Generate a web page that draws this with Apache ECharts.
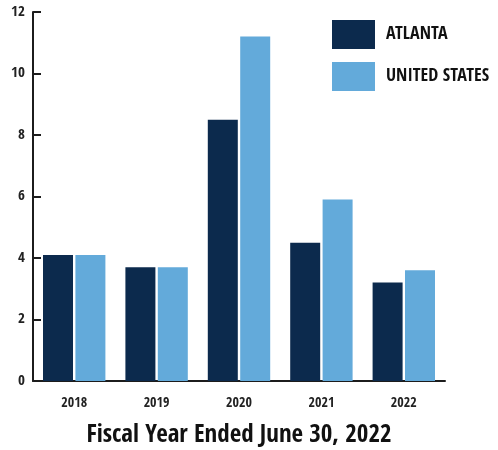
<!DOCTYPE html>
<html>
<head>
<meta charset="utf-8">
<script src="https://cdn.jsdelivr.net/npm/echarts@6/dist/echarts.min.js"></script>
<style>
  html, body { margin: 0; padding: 0; background: #fff; }
  #chart { width: 498px; height: 450px; }
</style>
</head>
<body>
<div id="chart"></div>
<script>
  'use strict';

  var years = ['2018', '2019', '2020', '2021', '2022'];
  var atlanta = [4.1, 3.7, 8.5, 4.5, 3.2];
  var unitedStates = [4.1, 3.7, 11.2, 5.9, 3.6];

  var font = '"Open Sans Condensed", "Roboto Condensed", sans-serif';
  var ink = '#1c1c1c';

  var chart = echarts.init(document.getElementById('chart'));
  chart.setOption({
    animation: false,
    textStyle: { fontFamily: font },
    grid: { left: 33, right: 53, top: 12, bottom: 69, outerBoundsMode: 'none' },
    legend: {
      orient: 'vertical',
      left: 332,
      top: 20,
      padding: 0,
      itemWidth: 43,
      itemHeight: 29,
      itemGap: 13,
      icon: 'rect',
      textStyle: {
        fontFamily: font,
        fontWeight: 'bold',
        fontSize: 18,
        color: '#111',
        padding: [0, 0, 0, 6]
      },
      data: ['ATLANTA', 'UNITED STATES']
    },
    xAxis: {
      type: 'category',
      data: years,
      name: 'Fiscal Year Ended June 30, 2022',
      nameLocation: 'middle',
      nameGap: 42,
      nameTextStyle: {
        fontFamily: font,
        fontWeight: 'bold',
        fontSize: 25,
        color: '#111'
      },
      axisLine: { lineStyle: { color: ink, width: 2 } },
      axisTick: { inside: true, length: 8, lineStyle: { color: ink, width: 2 } },
      axisLabel: {
        margin: 15,
        fontFamily: font,
        fontWeight: 'bold',
        fontSize: 14,
        color: '#222'
      }
    },
    yAxis: {
      type: 'value',
      min: 0,
      max: 12,
      interval: 2,
      splitLine: { show: false },
      axisLine: { show: true, lineStyle: { color: ink, width: 2 } },
      axisTick: { show: true, inside: true, length: 8, lineStyle: { color: ink, width: 2 } },
      axisLabel: {
        margin: 8,
        fontFamily: font,
        fontWeight: 'bold',
        fontSize: 15,
        color: '#222'
      }
    },
    series: [
      {
        name: 'ATLANTA',
        type: 'bar',
        data: atlanta,
        barWidth: 30,
        barGap: '8%',
        itemStyle: { color: '#0c2a4d' }
      },
      {
        name: 'UNITED STATES',
        type: 'bar',
        data: unitedStates,
        barWidth: 30,
        itemStyle: { color: '#63aada' }
      }
    ]
  });
</script>
</body>
</html>
